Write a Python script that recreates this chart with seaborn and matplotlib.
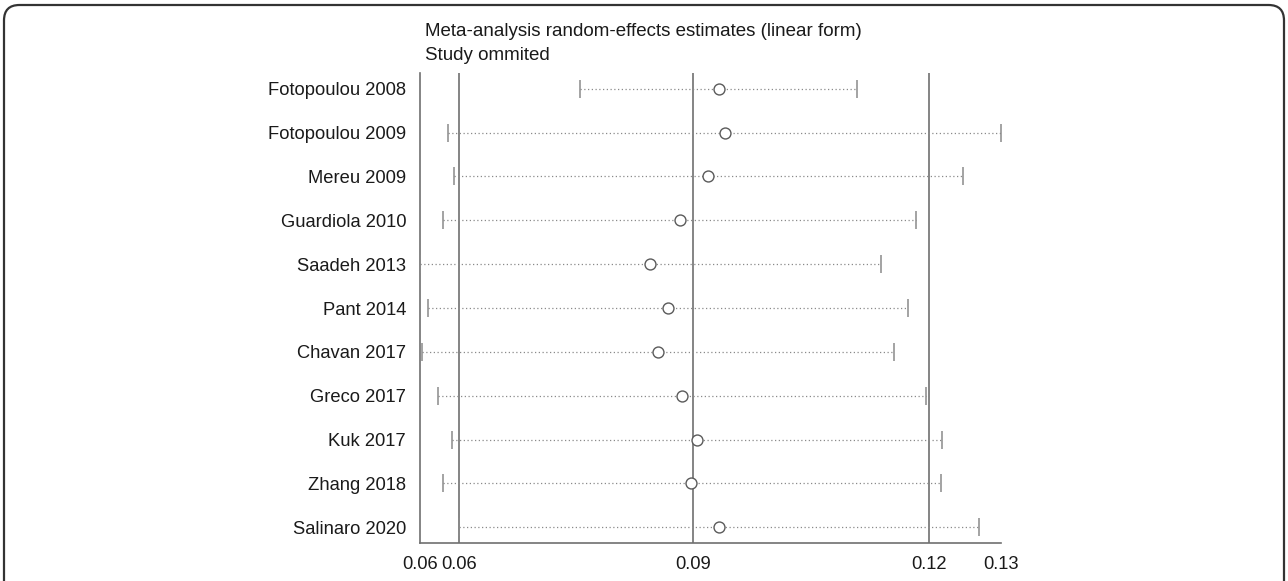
import numpy as np
import pandas as pd
import matplotlib
matplotlib.use("Agg")
import matplotlib.pyplot as plt
import seaborn as sns
from matplotlib.patches import FancyBboxPatch

studies = ["Fotopoulou 2008", "Fotopoulou 2009", "Mereu 2009", "Guardiola 2010",
           "Saadeh 2013", "Pant 2014", "Chavan 2017", "Greco 2017", "Kuk 2017",
           "Zhang 2018", "Salinaro 2020"]
estimate = [0.09316, 0.09389, 0.09181, 0.08815, 0.08433, 0.08662, 0.08539,
            0.08841, 0.09032, 0.08964, 0.09316]
lower = [0.07541, 0.05864, 0.05936, 0.05792, 0.05503, 0.05605, 0.05529,
         0.05732, 0.05907, 0.05792, 0.06004]
upper = [0.11079, 0.12917, 0.12433, 0.11838, 0.11385, 0.11729, 0.11550,
         0.11958, 0.12169, 0.12153, 0.12637]
ref_lines = [0.0600, 0.0899, 0.1200]
tick_labels = ["0.06", "0.06", "0.09", "0.12", "0.13"]
title_lines = ["Meta-analysis random-effects estimates (linear form)", "Study ommited"]

df = pd.DataFrame({"study": studies, "est": estimate, "lo": lower, "hi": upper})
df["pos"] = np.arange(len(df))

sns.set_theme(style="white")
plt.rcParams["font.family"] = ["Liberation Sans", "DejaVu Sans"]

W, H = 1288, 581
fig = plt.figure(figsize=(W / 100, H / 100), dpi=100)
ax = fig.add_axes([420 / W, 1 - 543 / H, (1001 - 420) / W, (543 - 73) / H])

line_col = "#707070"
xmin, xmax = min(lower), max(upper)

for v in ref_lines:
    ax.axvline(v, color=line_col, lw=1.2, zorder=1)

ax.hlines(df["pos"], df["lo"], df["hi"], colors="#8a8a8a", lw=0.9,
          linestyles=(0, (1, 2.0)), zorder=2)
ax.scatter(df["lo"], df["pos"], marker="|", s=170, color="#8a8a8a", lw=1.1, zorder=3)
ax.scatter(df["hi"], df["pos"], marker="|", s=170, color="#8a8a8a", lw=1.1, zorder=3)
sns.scatterplot(data=df, x="est", y="pos", ax=ax, marker="o", s=62,
                facecolor="white", edgecolor="#5a5a5a", linewidth=1.0, zorder=4,
                legend=False)

ax.set_xlim(xmin, xmax)
ax.set_ylim(len(df) - 1 + 0.36, -0.36)
ax.set_yticks(df["pos"])
ax.set_yticklabels(studies, fontsize=13.2, color="#1a1a1a")
ax.tick_params(axis="y", length=0, pad=10)
ax.set_xticks([xmin] + ref_lines + [xmax])
ax.set_xticklabels(tick_labels, fontsize=13.2, color="#1a1a1a")
ax.tick_params(axis="x", length=7.5, width=1.1, color=line_col, pad=2, direction="out")
ax.set_xlabel("")
ax.set_ylabel("")

for s in ["top", "right"]:
    ax.spines[s].set_visible(False)
for s in ["left", "bottom"]:
    ax.spines[s].set_color(line_col)
    ax.spines[s].set_linewidth(1.2)

fig.text(425 / W, 1 - 32 / H, title_lines[0], fontsize=13.5, color="#1a1a1a",
         ha="left", va="center")
fig.text(425 / W, 1 - 55 / H, title_lines[1], fontsize=13.5, color="#1a1a1a",
         ha="left", va="center")

border = FancyBboxPatch((4 / W, -0.1), (1284 - 4) / W, (H - 5) / H + 0.1,
                        boxstyle="round,pad=0,rounding_size=0.012",
                        transform=fig.transFigure, fill=False,
                        edgecolor="#333333", lw=1.6, clip_on=False,
                        mutation_aspect=W / H)
fig.patches.append(border)

fig.savefig("out.png", dpi=100)
